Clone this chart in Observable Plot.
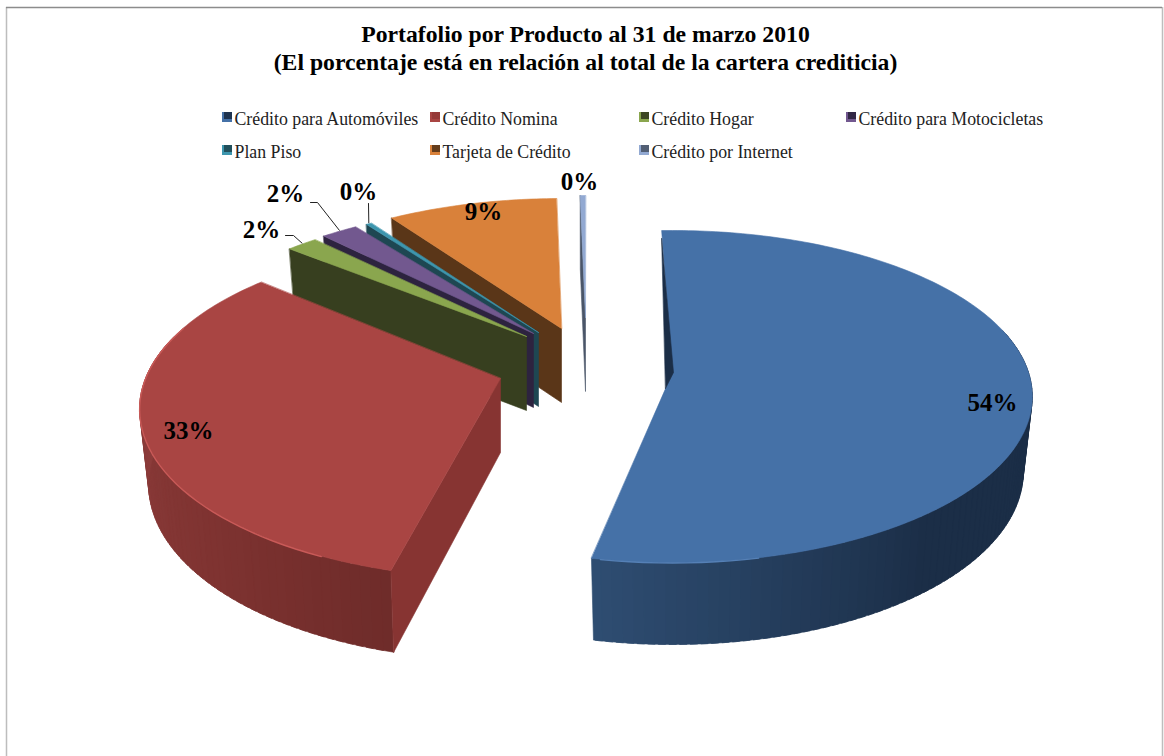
<!DOCTYPE html>
<html><head><meta charset="utf-8">
<style>html,body{margin:0;padding:0;background:#fff}svg{display:block}</style>
<script src="https://cdn.jsdelivr.net/npm/d3@7"></script>
<script src="https://cdn.jsdelivr.net/npm/@observablehq/plot@0.6"></script>
</head><body><div id="chart"></div>
<script>
const categories = ["Crédito para Automóviles","Crédito Nomina","Crédito Hogar","Crédito para Motocicletas","Plan Piso","Tarjeta de Crédito","Crédito por Internet"];
const shares = [53.9,33.2,1.7,2.0,0.3,9.0,0.3];
const titleLines = ["Portafolio por Producto al 31 de marzo 2010","(El porcentaje está en relación al total de la cartera crediticia)"];

const topColors  = ["#4571A7","#A94543","#8AA64E","#72588F","#3D96AE","#D9813A","#92A9D2"];
const faceColors = ["#1B2E47","#873432","#373F1F","#2D233F","#1E4752","#5A3618","#4A5568"];
const rimStops = [
  {a:[120,140,192],c:["#1B2E47","#1B2E47","#2F4E73"]},
  {a:[195,225,290],c:["#6F2C2A","#7F3331","#944140"]},
  null,null,null,null,null];
const glint = [{from:168,to:190,c:"#5580B6"},{from:205,to:290,c:"#C95A58"},null,null,null,null,null];

// layout of each exploded slice: apex, radii of the tilted disc, rotation and angular stretch of the 3D view
const apexX = [672,500,526,533,538,561,585];
const apexY = [372,378,336,333,332,328,317];
const radX  = [356,355,352,352,352,352,352];
const radBack  = [142,139,128,128,128,130,122];
const radFront = [190,200,200,200,200,200,200];
const turn  = [-1.0,2.5,-1.5,-1.1,0.2,-0.2,1.0];
const stretch = [1,0.977,1,1,1,1.04,1];
const paintOrder = [6,5,4,3,2,1,0];

const labelX = [992,188,261,285,358,483,579];
const labelY = [402,430,229,193,191,211,181];
const leaderKnots = [null,null,[[285,235],[293,235]],[[310,202],[317,202]],[[368,203]],null,null];

const rad = d => d*Math.PI/180;
const total = d3.sum(shares);
let acc = -1;
const slices = shares.map((s,i)=>{
  const a0 = acc, span = s/total*360; acc = a0+span;
  return {i, s, a0:a0+turn[i], a1:a0+turn[i]+span*stretch[i]};
});
function proj(i,deg){
  const f=radFront[i], b=radBack[i], k=(f-b)/(f+b), A=f*(1-k);
  const u=Math.sin(rad(deg)), v=-Math.cos(rad(deg)), w=1-k*v;
  return {x:apexX[i]+radX[i]*u/w, y:apexY[i]+A*v/w, v};
}
function drop(i,p,vv){
  return {x:apexX[i]+(p.x-apexX[i])*0.975, y:p.y+74+8*Math.max(vv,0)};
}
const polys=[], glints=[];
let pid=0;
function poly(pts,color){const id=pid++; pts.forEach((p,o)=>polys.push({x:p.x,y:p.y,id,color,o}));}
for(const i of paintOrder){
  const sl=slices[i], apex={x:apexX[i],y:apexY[i]};
  const r0=proj(i,sl.a0);
  if(rimStops[i]){
    const shade=d3.scaleLinear().domain(rimStops[i].a).range(rimStops[i].c).clamp(true);
    const step=1.5;
    for(let a=sl.a0;a<sl.a1;a+=step){
      const b=Math.min(a+step+1,sl.a1), p=proj(i,a), q=proj(i,b);
      if(p.v<-0.25&&q.v<-0.25) continue;
      poly([p,q,drop(i,q,q.v),drop(i,p,p.v)],shade(a));
    }
  }
  if(i!==0){ // cut face towards the viewer
    poly([r0,apex,drop(i,apex,0),drop(i,r0,r0.v)],faceColors[i]);
  }
  const top=[apex];
  const n=Math.max(2,Math.ceil(sl.a1-sl.a0));
  d3.range(n+1).forEach(j=>top.push(proj(i,sl.a0+(sl.a1-sl.a0)*j/n)));
  poly(top,topColors[i]);
  if(i===0){ // dark sliver at the start of the blue slice
    poly([{x:r0.x,y:r0.y+8},{x:apex.x+1,y:apex.y},{x:apex.x-7,y:apex.y+16}],faceColors[0]);
  }
  if(glint[i]){
    const g=glint[i];
    d3.range(g.from,g.to+1,2).forEach(a=>{const p=proj(i,a);glints.push({x:p.x,y:p.y+0.5,id:i,c:g.c});});
  }
}
const labels = slices.map((d,i)=>({x:labelX[i],y:labelY[i],t:Math.round(d.s)+"%"}));
const leaders = [];
leaderKnots.forEach((k,i)=>{
  if(!k) return;
  const sl=slices[i], end=proj(i,(sl.a0+sl.a1)/2);
  k.forEach(p=>leaders.push({x:p[0],y:p[1],i}));
  leaders.push({x:end.x,y:end.y-1,i});
});
const legCols=[222,430,639,846], legRows=[112,145];
const legend=categories.map((c,i)=>({c,i,x:legCols[i%4],y:legRows[Math.floor(i/4)]}));
const serif="'Liberation Serif','Times New Roman',serif";

const chart=Plot.plot({
  width:1164,height:756,margin:0,
  style:{background:"#fff",fontFamily:serif},
  x:{domain:[0,1164],range:[0,1164],axis:null},
  y:{domain:[0,756],range:[0,756],axis:null},
  color:{type:"identity"},
  marks:[
    Plot.ruleX([6,1162],{y1:7,y2:756,stroke:"#bdbdbd",strokeWidth:1.5}),
    Plot.ruleY([7],{x1:6,x2:1162,stroke:"#8c8c8c",strokeWidth:1.5}),
    Plot.text(titleLines,{x:()=>585,y:(d,i)=>[34,62][i],text:d=>d,fontSize:23.7,fontWeight:"bold",fill:"#000"}),
    Plot.rect(legend,{x1:"x",x2:d=>d.x+10,y1:"y",y2:d=>d.y+10,fill:d=>topColors[d.i]}),
    Plot.rect(legend,{x1:d=>d.x+2,x2:d=>d.x+10,y1:"y",y2:d=>d.y+7,fill:d=>d3.color(faceColors[d.i]).brighter(0.3).formatRgb()}),
    Plot.text(legend,{x:d=>d.x+12,y:d=>d.y+7,text:"c",textAnchor:"start",fontSize:17.8,fill:"#222"}),
    Plot.line(polys,{x:"x",y:"y",z:"id",fill:"color",stroke:"color",strokeWidth:0.6,curve:"linear-closed"}),
    Plot.line(glints,{x:"x",y:"y",z:"id",stroke:"c",strokeWidth:1.4}),
    Plot.line(leaders,{x:"x",y:"y",z:"i",stroke:"#222",strokeWidth:1}),
    Plot.text(labels,{x:"x",y:"y",text:"t",fontSize:25,fontWeight:"bold",fill:"#000"})
  ]
});
document.getElementById("chart").append(chart);
</script></body></html>
